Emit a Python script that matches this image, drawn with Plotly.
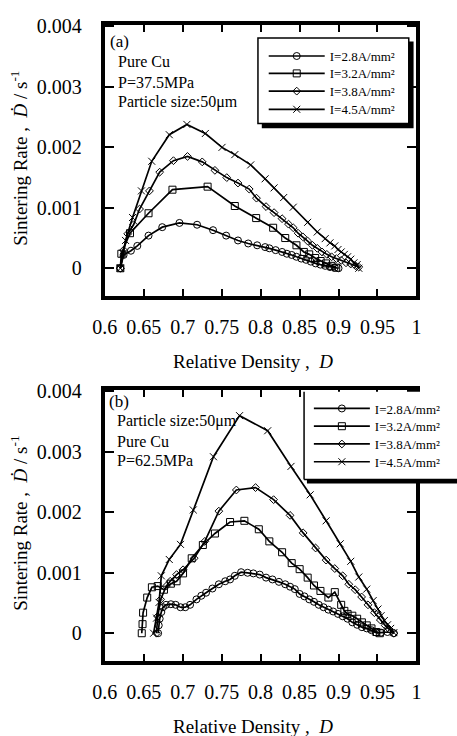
import plotly.graph_objects as go

# ---------------- data ----------------
labels = ["I=2.8A/mm²", "I=3.2A/mm²", "I=3.8A/mm²", "I=4.5A/mm²"]
symbols = ["circle-open", "square-open", "diamond-open", "x-thin-open"]
sizes = [7, 7, 6, 7]

# (a) P = 37.5 MPa
a_d28 = [0.620, 0.6242, 0.6336, 0.6418, 0.6562, 0.6738, 0.6959, 0.7185, 0.739, 0.7558, 0.771, 0.7841, 0.7956,
         0.8058, 0.8112, 0.8193, 0.8276, 0.8337, 0.8399, 0.846, 0.8522, 0.8583, 0.8645, 0.8706, 0.8768, 0.8829,
         0.889, 0.8952, 0.900]
a_r28 = [0, 0.00022, 0.00029, 0.00037, 0.00054, 0.00068, 0.00075, 0.00072, 0.00063, 0.00054, 0.00046, 0.00041,
         0.00038, 0.00035, 0.00033, 0.0003, 0.00027, 0.00024, 0.00022, 0.00019, 0.00016, 0.00014, 0.00011, 0.00008,
         0.00006, 0.00004, 0.00002, 0.00001, 0.0]
a_d32 = [0.620, 0.6213, 0.6324, 0.6562, 0.6869, 0.732, 0.7669, 0.7943, 0.8161, 0.8316, 0.846, 0.8555, 0.8624,
         0.870, 0.877, 0.884, 0.891, 0.897]
a_r32 = [0, 0.00024, 0.00058, 0.00091, 0.0013, 0.00135, 0.00103, 0.00083, 0.00067, 0.0005, 0.00038, 0.00027,
         0.00023, 0.00017, 0.00012, 0.00008, 0.00004, 0.00001]
a_d38 = [0.620, 0.6242, 0.6295, 0.637, 0.6447, 0.6574, 0.6705, 0.6882, 0.7062, 0.7251, 0.7414, 0.7566, 0.771,
         0.7854, 0.7947, 0.807, 0.8173, 0.8276, 0.8358, 0.8419, 0.8481, 0.8542, 0.8604, 0.8665, 0.8727, 0.8788,
         0.885, 0.8911, 0.8973, 0.9034, 0.9096, 0.9157, 0.9219, 0.926]
a_r38 = [0, 0.0003, 0.00057, 0.00072, 0.00098, 0.00128, 0.00159, 0.00178, 0.00185, 0.00176, 0.00162, 0.0015,
         0.00141, 0.00131, 0.00116, 0.00102, 0.00092, 0.00082, 0.00073, 0.00067, 0.00058, 0.00052, 0.00045,
         0.00038, 0.00033, 0.00027, 0.00023, 0.00019, 0.00016, 0.00013, 0.00009, 0.00007, 0.00004, 0.00002]
a_d45 = [0.620, 0.6234, 0.6267, 0.6357, 0.6471, 0.6603, 0.6828, 0.7054, 0.7291, 0.7505, 0.7669, 0.7873, 0.8058,
         0.8173, 0.8296, 0.8419, 0.8604, 0.8727, 0.8829, 0.889, 0.8952, 0.8993, 0.9034, 0.9075, 0.9116, 0.9157,
         0.9198, 0.9239, 0.926]
a_r45 = [0, 0.000245, 0.00046, 0.00084, 0.00128, 0.00177, 0.00221, 0.00238, 0.00223, 0.002, 0.00188, 0.00171,
         0.00148, 0.00133, 0.00117, 0.00101, 0.00076, 0.0006, 0.00049, 0.00042, 0.00037, 0.00031, 0.00027,
         0.00023, 0.00019, 0.00015, 0.00009, 0.00006, 0.0]

# (b) P = 62.5 MPa
b_d28 = [0.6685, 0.6693, 0.6705, 0.6726, 0.6747, 0.6787, 0.6849, 0.691, 0.6972, 0.7033, 0.7095, 0.7177, 0.7239,
         0.73, 0.7382, 0.7464, 0.7546, 0.7608, 0.7669, 0.775, 0.7833, 0.7907, 0.7989, 0.807, 0.8152, 0.8235,
         0.8316, 0.8378, 0.8439, 0.8501, 0.8562, 0.8624, 0.8685, 0.8747, 0.8808, 0.887, 0.8931, 0.8993, 0.9054,
         0.9116, 0.9177, 0.9239, 0.93, 0.9362, 0.9423, 0.9485, 0.9546, 0.9628, 0.971]
b_r28 = [0.0, 0.00013, 0.00024, 0.00035, 0.00043, 0.00047, 0.00048, 0.00047, 0.00043, 0.00043, 0.00047,
         0.00056, 0.00062, 0.00067, 0.00074, 0.00081, 0.00086, 0.00089, 0.00095, 0.00101, 0.001, 0.00099,
         0.00097, 0.00092, 0.00089, 0.00085, 0.00081, 0.00077, 0.00073, 0.00065, 0.00061, 0.00056, 0.00052,
         0.00047, 0.00043, 0.00039, 0.00036, 0.00032, 0.00028, 0.00024, 0.00018, 0.00014, 0.0001, 0.00008,
         0.00005, 0.00001, 0.00001, 0.00002, 0.0]
b_d32 = [0.6475, 0.6485, 0.6492, 0.6545, 0.6605, 0.668, 0.676, 0.6849, 0.6922, 0.7005, 0.7116, 0.7259, 0.7414,
         0.7608, 0.7792, 0.7977, 0.8112, 0.8276, 0.8399, 0.8501, 0.8604, 0.8685, 0.8768, 0.887, 0.8952, 0.9034,
         0.9075, 0.9116, 0.9177, 0.9239, 0.93, 0.9362, 0.9423, 0.9485, 0.953]
b_r32 = [0, 0.00015, 0.00034, 0.00059, 0.00076, 0.00078, 0.00072, 0.00082, 0.00086, 0.00099, 0.00124, 0.00146,
         0.00165, 0.00184, 0.00186, 0.00172, 0.00152, 0.00134, 0.00116, 0.00106, 0.00092, 0.00079, 0.0007,
         0.00059, 0.00068, 0.00047, 0.00037, 0.00032, 0.00029, 0.00024, 0.00018, 0.00013, 0.00008, 0.00002, 0.0]
b_d38 = [0.6664, 0.668, 0.6717, 0.679, 0.684, 0.6922, 0.7005, 0.7148, 0.7284, 0.7464, 0.7689, 0.7935, 0.8167,
         0.8378, 0.8546, 0.8706, 0.8841, 0.8952, 0.9054, 0.9132, 0.9214, 0.9296, 0.9378, 0.946, 0.9536, 0.9598,
         0.9649, 0.971]
b_r38 = [0, 0.00028, 0.00056, 0.00078, 0.00086, 0.00097, 0.00105, 0.00124, 0.00152, 0.00202, 0.00237, 0.00241,
         0.00221, 0.00195, 0.00166, 0.00141, 0.00121, 0.00107, 0.00095, 0.00081, 0.00072, 0.0006, 0.00047,
         0.00034, 0.00022, 0.00013, 0.00007, 0.0]
b_d45 = [0.6627, 0.6665, 0.6697, 0.6726, 0.6828, 0.6972, 0.7136, 0.7395, 0.773, 0.8091, 0.839, 0.8636, 0.8841,
         0.9022, 0.9157, 0.926, 0.9362, 0.9444, 0.9506, 0.9546, 0.9588, 0.9629, 0.9669, 0.971]
b_r45 = [0, 0.00025, 0.00051, 0.00095, 0.00122, 0.00147, 0.00204, 0.00292, 0.0036, 0.00335, 0.00276, 0.00229,
         0.00186, 0.00148, 0.00119, 0.00093, 0.00073, 0.00054, 0.0004, 0.00029, 0.00021, 0.00014, 0.00008, 0.00001]

x_tickvals = [0.6, 0.65, 0.7, 0.75, 0.8, 0.85, 0.9, 0.95, 1.0]
x_ticktext = ["0.6", "0.65", "0.7", "0.75", "0.8", "0.85", "0.9", "0.95", "1"]
y_tickvals = [0, 0.001, 0.002, 0.003, 0.004]
y_ticktext = ["0", "0.001", "0.002", "0.003", "0.004"]

# ---------------- layout helpers ----------------
W, H = 457, 736
FONT = "Liberation Serif"


def fx(p):
    return p / W


def fy(p):
    return 1 - p / H


fig = go.Figure()

# legend rows (pixel centres) for each panel
legend_rows = {
    "a": dict(x=261, ys=[46.7, 64.3, 82.3, 100.7]),
    "b": dict(x=308, ys=[404, 422, 440, 458]),
}

panels = [
    dict(key="a", xa="x", ya="y", lnum=1,
         series=[(a_d28, a_r28), (a_d32, a_r32), (a_d38, a_r38), (a_d45, a_r45)]),
    dict(key="b", xa="x2", ya="y2", lnum=5,
         series=[(b_d28, b_r28), (b_d32, b_r32), (b_d38, b_r38), (b_d45, b_r45)]),
]

legend_layouts = {}
for p in panels:
    rows = legend_rows[p["key"]]
    for i, (dx, dy) in enumerate(p["series"]):
        n = p["lnum"] + i
        lname = "legend" if n == 1 else f"legend{n}"
        fig.add_trace(go.Scatter(
            x=dx, y=dy, mode="lines+markers", name=labels[i],
            xaxis=p["xa"], yaxis=p["ya"], legend=lname, showlegend=True,
            line=dict(color="black", width=1.7),
            marker=dict(symbol=symbols[i], size=sizes[i], color="black",
                        line=dict(color="black", width=1)),
        ))
        legend_layouts[lname] = dict(
            x=fx(rows["x"]), y=fy(rows["ys"][i]), xanchor="left", yanchor="middle",
            bgcolor="rgba(0,0,0,0)", borderwidth=0, itemwidth=56, visible=True,
            font=dict(family=FONT, size=13, color="black"))

xdom = [fx(95.5), fx(420)]
ydom_a = [fy(290), fy(15.5)]
ydom_b = [fy(660), fy(385.5)]
yrange = [-0.00046, 0.00402]

axis_common = dict(showline=True, linecolor="black", linewidth=4, mirror="ticks",
                   ticks="inside", tickcolor="black", tickwidth=2, showgrid=False,
                   zeroline=False, tickfont=dict(family=FONT, size=20, color="black"))

xcommon = dict(axis_common, range=[0.6, 1.0], tickvals=x_tickvals, ticktext=x_ticktext,
               ticklen=7, ticklabelstandoff=10, domain=xdom)
ycommon = dict(axis_common, range=yrange, tickvals=y_tickvals, ticktext=y_ticktext,
               ticklen=9, ticklabelstandoff=15)

fig.update_layout(
    width=W, height=H,
    margin=dict(l=0, r=0, t=0, b=0),
    paper_bgcolor="white", plot_bgcolor="white",
    font=dict(family=FONT, color="black"),
    showlegend=True,
    xaxis=dict(xcommon, anchor="y"),
    yaxis=dict(ycommon, domain=ydom_a, anchor="x"),
    xaxis2=dict(xcommon, anchor="y2"),
    yaxis2=dict(ycommon, domain=ydom_b, anchor="x2"),
    **legend_layouts,
)

shapes = []
# legend box (a) with drop shadow
shapes.append(dict(type="rect", xref="paper", yref="paper", layer="above",
                   x0=fx(259), x1=fx(417), y0=fy(120), y1=fy(32),
                   fillcolor="black", line=dict(width=0)))
shapes.append(dict(type="rect", xref="paper", yref="paper", layer="above",
                   x0=fx(255), x1=fx(412), y0=fy(115), y1=fy(28.5),
                   fillcolor="white", line=dict(color="black", width=1.5)))
# legend box (b) with drop shadow (runs past the right edge)
shapes.append(dict(type="rect", xref="paper", yref="paper", layer="above",
                   x0=fx(306), x1=fx(470), y0=fy(480), y1=fy(391),
                   fillcolor="black", line=dict(width=0)))
shapes.append(dict(type="rect", xref="paper", yref="paper", layer="above",
                   x0=fx(303), x1=fx(470), y0=fy(476), y1=fy(387),
                   fillcolor="white", line=dict(width=0)))
shapes.append(dict(type="line", xref="paper", yref="paper", layer="above",
                   x0=fx(303), x1=fx(303), y0=fy(476), y1=fy(387),
                   line=dict(color="black", width=1.5)))
shapes.append(dict(type="line", xref="paper", yref="paper", layer="above",
                   x0=fx(303), x1=fx(470), y0=fy(476), y1=fy(476),
                   line=dict(color="black", width=1.5)))
fig.update_layout(shapes=shapes)

ann = []


def text(x, y, s, size=16, **kw):
    d = dict(xref="paper", yref="paper", x=fx(x), y=fy(y), text=s, showarrow=False,
             xanchor="left", yanchor="middle", font=dict(family=FONT, size=size, color="black"))
    d.update(kw)
    ann.append(d)


# panel (a) notes
text(99, 32, "(a)", size=17)
text(107, 52, "Pure Cu")
text(107, 73, "P=37.5MPa")
text(107, 93, "Particle size:50μm")
# panel (b) notes
text(98, 397, "(b)", size=17)
text(106, 417, "Particle size:50μm")
text(106, 437, "Pure Cu")
text(106, 457, "P=62.5MPa")

for xt_y, yt_y in [(356, 150), (726, 520)]:
    text(250, xt_y, "Relative Density ,  <i>D</i>", size=19, xanchor="center")
    text(6, yt_y, "Sintering Rate ,  <i>Ḋ</i> / s<sup>-1</sup>", size=19,
         xanchor="center", textangle=-90)

fig.update_layout(annotations=ann)

fig.write_html("out.html")
